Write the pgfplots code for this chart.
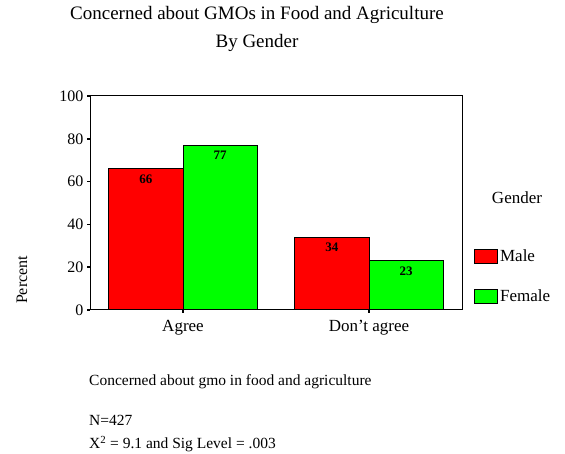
\documentclass[border=0pt]{standalone}
\usepackage{fontspec}
\setmainfont{Liberation Serif}
\usepackage{pgfplots}
\pgfplotsset{compat=1.18}
\definecolor{barred}{RGB}{255,0,0}
\definecolor{bargreen}{RGB}{0,255,0}
\pgfplotsset{
  swatch/.style={legend image code/.code={\draw[##1] (0pt,-7pt) rectangle (23pt,7pt);}},
}
\begin{document}
\begin{tikzpicture}[x=1pt,y=1pt]
\path[use as bounding box] (0,0) rectangle (565,454);
\begin{axis}[
  at={(90pt,144pt)}, anchor=south west,
  scale only axis, width=372pt, height=214pt,
  ybar=0pt, bar width=0.4,
  xmin=-0.5, xmax=1.5, ymin=0, ymax=100,
  xtick={0,1}, xticklabels={Agree, Don't agree},
  ytick={0,20,...,100},
  xtick pos=bottom, ytick pos=left,
  tick align=outside, major tick length=3pt,
  tick style={black, line width=1.5pt},
  axis line style={line width=1pt},
  /pgf/number format/assume math mode=true,
  xticklabel style={font=\fontsize{17}{17}\selectfont, yshift=-4pt},
  yticklabel style={font=\fontsize{16}{16}\selectfont},
  nodes near coords,
  every node near coord/.append style={anchor=north, yshift=-2pt,
    font=\fontsize{13}{13}\selectfont\bfseries, black},
  legend style={draw=none, fill=none, at={(1.032,0.29)}, anchor=north west,
    inner sep=0pt, row sep=22pt, font=\fontsize{17}{17}\selectfont,
    legend cell align=left},
]
\addplot[fill=barred, draw=black, line width=1pt, swatch] coordinates {(0,66) (1,34)};
\addplot[fill=bargreen, draw=black, line width=1pt, swatch] coordinates {(0,77) (1,23)};
\legend{Male, Female}
\end{axis}
\node[font=\fontsize{19}{19}\selectfont] at (257,439) {Concerned about GMOs in Food and Agriculture};
\node[font=\fontsize{19}{19}\selectfont] at (257,411) {By Gender};
\node[font=\fontsize{17}{17}\selectfont] at (517,256) {Gender};
\node[font=\fontsize{16}{16}\selectfont, rotate=90] at (22,174) {Percent};
\node[font=\fontsize{15.5}{15.5}\selectfont, anchor=west, inner sep=0pt] at (89,72) {Concerned about gmo in food and agriculture};
\node[font=\fontsize{15.5}{15.5}\selectfont, anchor=west, inner sep=0pt] at (89,34) {N=427};
\node[font=\fontsize{15.5}{15.5}\selectfont, anchor=base west, inner sep=0pt] at (89,5) {X\textsuperscript{2} = 9.1 and Sig Level = .003};
\end{tikzpicture}
\end{document}
